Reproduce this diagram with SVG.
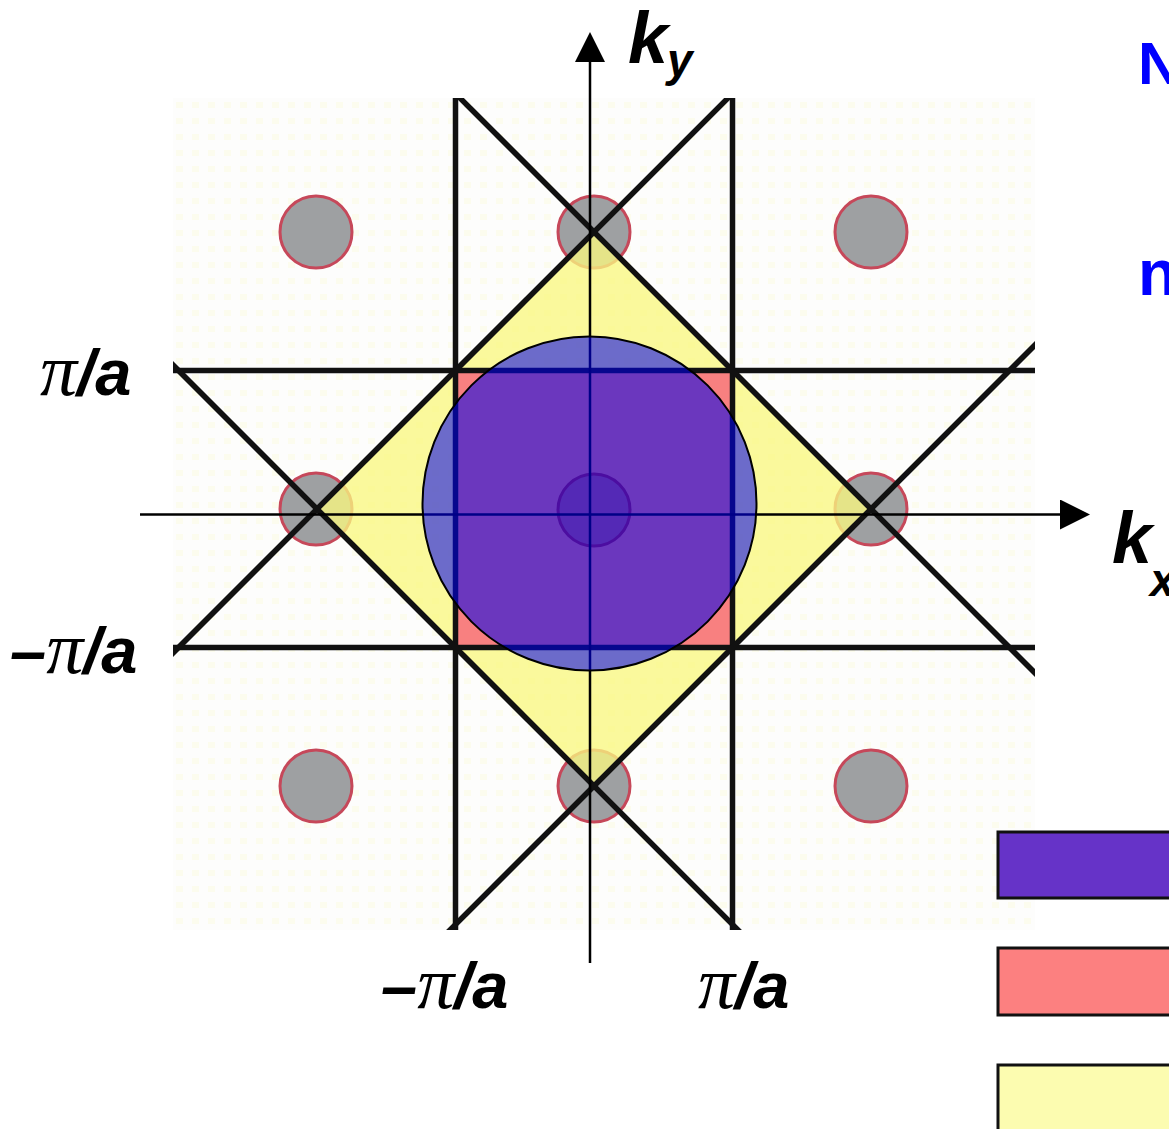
<svg xmlns="http://www.w3.org/2000/svg" width="1169" height="1129" viewBox="0 0 1169 1129">
  <style>
    .dot { fill: #9ea0a2; stroke: #c6485a; stroke-width: 3; }
    .zl { stroke: #111; stroke-width: 5.5; fill: none; }
    .ax { stroke: #000; stroke-width: 2.5; fill: none; }
    .bi { font-family: "Liberation Sans", Arial, sans-serif; font-weight: bold; font-style: italic; }
    .pi { font-family: "Liberation Serif", "Times New Roman", serif; font-style: italic; font-size: 74px; }
    .lbl { font-size: 65px; fill: #000; }
    .blue { font-family: "Liberation Sans", Arial, sans-serif; font-weight: bold; fill: #0000ff; }
    .leg { stroke: #111; stroke-width: 3; }
  </style>
  <defs>
    <pattern id="bgpat" x="173" y="98" width="16" height="16" patternUnits="userSpaceOnUse">
      <rect width="16" height="16" fill="#fdfdfc"/>
      <rect x="3" y="4" width="7" height="6" fill="#fcfcee"/>
    </pattern>
    <clipPath id="raster">
      <rect x="173" y="98" width="862" height="832"/>
    </clipPath>
    <marker id="arrow" markerUnits="userSpaceOnUse" markerWidth="30" markerHeight="30" viewBox="0 -15 30 30" refX="0" refY="0" orient="auto">
      <path d="M0,-15 L30,0 L0,15 z" fill="#000"/>
    </marker>
  </defs>

  <rect width="1169" height="1129" fill="#ffffff"/>
  <rect id="background" x="173" y="98" width="862" height="832" fill="url(#bgpat)"/>

  <g id="lattice">
    <circle class="dot" cx="316" cy="232" r="36"/>
    <circle class="dot" cx="594" cy="232" r="36"/>
    <circle class="dot" cx="871" cy="232" r="36"/>
    <circle class="dot" cx="316" cy="509" r="36"/>
    <circle class="dot" cx="871" cy="509" r="36"/>
    <circle class="dot" cx="316" cy="786" r="36"/>
    <circle class="dot" cx="594" cy="786" r="36"/>
    <circle class="dot" cx="871" cy="786" r="36"/>
  </g>

  <g id="zone2">
    <polygon points="594,232 871,509 594,786 317,509" fill="#f9f780" fill-opacity="0.78"/>
  </g>
  <g id="zone1">
    <rect x="455.5" y="370.5" width="277" height="277" fill="#f88080"/>
    <circle cx="594" cy="510" r="36" fill="#c2606e" stroke="#b0203c" stroke-width="3"/>
  </g>

  <g id="zone-lines" clip-path="url(#raster)">
    <line class="zl" x1="455.5" y1="98" x2="455.5" y2="930"/>
    <line class="zl" x1="732.5" y1="98" x2="732.5" y2="930"/>
    <line class="zl" x1="173" y1="370.5" x2="1035" y2="370.5"/>
    <line class="zl" x1="173" y1="647.5" x2="1035" y2="647.5"/>
    <line class="zl" x1="440" y1="78" x2="1060" y2="698"/>
    <line class="zl" x1="748" y1="78" x2="150" y2="676"/>
    <line class="zl" x1="150" y1="342" x2="760" y2="952"/>
    <line class="zl" x1="1060" y1="320" x2="428" y2="952"/>
  </g>

  <g id="axes">
    <line class="ax" x1="590" y1="963" x2="590" y2="62" marker-end="url(#arrow)"/>
    <line class="ax" x1="140" y1="514.5" x2="1060" y2="514.5" marker-end="url(#arrow)"/>
  </g>

  <g id="fermi-circle">
    <circle cx="589.5" cy="503.5" r="167" fill="#0000ee" fill-opacity="0.57" stroke="#000" stroke-width="2"/>
  </g>

  <g id="axis-labels">
    <text class="bi" x="628" y="63" font-size="72">k</text>
    <text class="bi" x="667" y="76" font-size="46">y</text>
    <text class="bi" x="1112" y="563" font-size="72">k</text>
    <text class="bi" x="1150" y="596" font-size="46">x</text>
  </g>

  <g id="tick-labels" class="lbl">
    <text x="40" y="395"><tspan class="pi">π</tspan><tspan class="bi">/a</tspan></text>
    <text x="10" y="673"><tspan class="bi">–</tspan><tspan class="pi">π</tspan><tspan class="bi">/a</tspan></text>
    <text x="381" y="1008"><tspan class="bi">–</tspan><tspan class="pi">π</tspan><tspan class="bi">/a</tspan></text>
    <text x="698" y="1008"><tspan class="pi">π</tspan><tspan class="bi">/a</tspan></text>
  </g>

  <g id="side-text">
    <text class="blue" x="1138" y="84" font-size="60">N</text>
    <text class="blue" x="1138" y="295" font-size="64">n</text>
  </g>

  <g id="legend">
    <rect class="leg" x="998" y="832" width="200" height="66" fill="#6633c8"/>
    <rect class="leg" x="998" y="948" width="200" height="67" fill="#fc8080"/>
    <rect class="leg" x="998" y="1065" width="200" height="80" fill="#fcfcb0"/>
  </g>
</svg>
